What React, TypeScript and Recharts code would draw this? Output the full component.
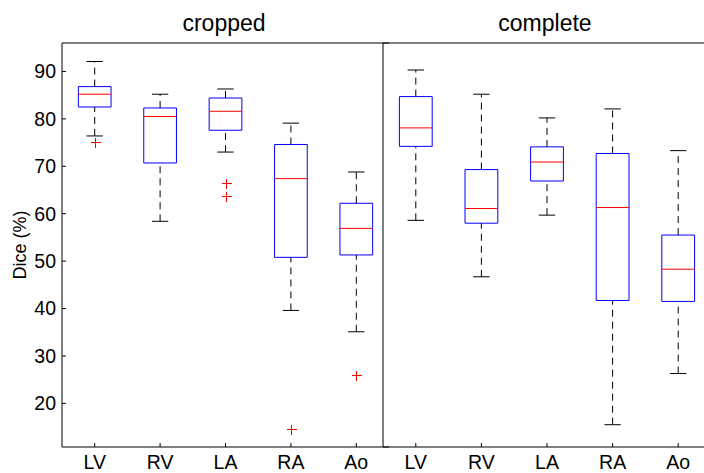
import React from "react";
import {
  ComposedChart,
  XAxis,
  YAxis,
  Scatter,
  ReferenceArea,
  ReferenceLine,
} from "recharts";

// カテゴリと目盛り
const categories = ["LV", "RV", "LA", "RA", "Ao"];
const yTicks = [20, 30, 40, 50, 60, 70, 80, 90];

// cropped の箱ひげ値
const croppedLow = [76.4, 58.4, 73.0, 39.6, 35.1];
const croppedQ1 = [82.5, 70.7, 77.6, 50.8, 51.3];
const croppedMedian = [85.2, 80.5, 81.6, 67.4, 56.9];
const croppedQ3 = [86.8, 82.3, 84.4, 74.6, 62.2];
const croppedHigh = [92.1, 85.2, 86.3, 79.1, 68.8];
const croppedOutliers = [[75.2], [], [66.4, 63.8], [14.6], [26.0]];

// complete の箱ひげ値
const completeLow = [58.6, 46.7, 59.7, 15.5, 26.3];
const completeQ1 = [74.2, 58.0, 66.9, 41.7, 41.5];
const completeMedian = [78.1, 61.1, 70.9, 61.3, 48.3];
const completeQ3 = [84.7, 69.3, 74.1, 72.7, 55.5];
const completeHigh = [90.3, 85.2, 80.2, 82.1, 73.3];
const completeOutliers = [[], [], [], [], []];

const FONT = "'Liberation Sans', Arial, Helvetica, sans-serif";
const X_DOMAIN: [number, number] = [0.5, 5.5];
const Y_DOMAIN: [number, number] = [10.8, 96];
const X_TICKS = [1, 2, 3, 4, 5];

// 外れ値の「+」マーカー
const Plus = (props: any) => {
  const { cx, cy } = props;
  if (cx == null || cy == null) return null;
  const px = Math.round(cx) + 0.5;
  const py = Math.round(cy) + 0.5;
  return (
    <g stroke="#ff0000" strokeWidth={1} shapeRendering="crispEdges">
      <line x1={px - 5} y1={py} x2={px + 5} y2={py} />
      <line x1={px} y1={py - 5} x2={px} y2={py + 5} />
    </g>
  );
};

interface PanelProps {
  low: number[];
  q1: number[];
  median: number[];
  q3: number[];
  high: number[];
  outliers: number[][];
  width: number;
  yWidth: number;
  showYLabels: boolean;
}

const Panel: React.FC<PanelProps> = ({
  low,
  q1,
  median,
  q3,
  high,
  outliers,
  width,
  yWidth,
  showYLabels,
}) => {
  const points = outliers.flatMap((vals, i) =>
    vals.map((v) => ({ x: i + 1, y: v }))
  );

  return (
    <ComposedChart
      width={width}
      height={473}
      margin={{ top: 42, right: 0, bottom: 0, left: 0 }}
    >
      <XAxis
        dataKey="x"
        type="number"
        domain={X_DOMAIN}
        ticks={X_TICKS}
        allowDataOverflow
        height={26}
        tickSize={-4}
        tickMargin={12}
        tickFormatter={(v) => categories[v - 1] ?? ""}
        tick={{ fill: "#000", fontSize: 19.5, fontFamily: FONT }}
        axisLine={{ stroke: "#000" }}
        tickLine={{ stroke: "#000" }}
      />
      <XAxis
        xAxisId="top"
        orientation="top"
        type="number"
        domain={X_DOMAIN}
        ticks={X_TICKS}
        allowDataOverflow
        height={1}
        tickSize={-4}
        tick={false}
        axisLine={{ stroke: "#000" }}
        tickLine={{ stroke: "#000" }}
      />
      <YAxis
        dataKey="y"
        type="number"
        domain={Y_DOMAIN}
        ticks={yTicks}
        allowDataOverflow
        width={yWidth}
        tickSize={-4}
        tickMargin={10}
        tick={
          showYLabels
            ? { fill: "#000", fontSize: 19.5, fontFamily: FONT }
            : false
        }
        axisLine={{ stroke: "#000" }}
        tickLine={{ stroke: "#000" }}
      />

      {categories.map((_, i) => {
        const x = i + 1;
        return (
          <React.Fragment key={`box-${i}`}>
            {/* ひげ */}
            <ReferenceLine
              segment={[
                { x, y: q3[i] },
                { x, y: high[i] },
              ]}
              stroke="#000"
              strokeDasharray="7 5"
            />
            <ReferenceLine
              segment={[
                { x, y: low[i] },
                { x, y: q1[i] },
              ]}
              stroke="#000"
              strokeDasharray="7 5"
            />
            <ReferenceLine
              segment={[
                { x: x - 0.125, y: high[i] },
                { x: x + 0.125, y: high[i] },
              ]}
              stroke="#000"
            />
            <ReferenceLine
              segment={[
                { x: x - 0.125, y: low[i] },
                { x: x + 0.125, y: low[i] },
              ]}
              stroke="#000"
            />
            {/* 箱 */}
            <ReferenceArea
              x1={x - 0.25}
              x2={x + 0.25}
              y1={q1[i]}
              y2={q3[i]}
              fill="#fff"
              fillOpacity={1}
              stroke="#0000ff"
              strokeOpacity={1}
            />
            {/* 中央値 */}
            <ReferenceLine
              segment={[
                { x: x - 0.25, y: median[i] },
                { x: x + 0.25, y: median[i] },
              ]}
              stroke="#ff0000"
            />
          </React.Fragment>
        );
      })}

      <Scatter
        data={points}
        dataKey="y"
        shape={<Plus />}
        isAnimationActive={false}
      />
    </ComposedChart>
  );
};

export default function App() {
  return (
    <div
      style={{
        position: "absolute",
        left: 0,
        top: 0,
        width: 704,
        height: 473,
        overflow: "hidden",
        background: "#fff",
        fontFamily: FONT,
      }}
    >
      <div style={{ position: "absolute", left: 0, top: 0 }}>
        <Panel
          low={croppedLow}
          q1={croppedQ1}
          median={croppedMedian}
          q3={croppedQ3}
          high={croppedHigh}
          outliers={croppedOutliers}
          width={389}
          yWidth={62}
          showYLabels
        />
      </div>
      <div style={{ position: "absolute", left: 382, top: 0 }}>
        <Panel
          low={completeLow}
          q1={completeQ1}
          median={completeMedian}
          q3={completeQ3}
          high={completeHigh}
          outliers={completeOutliers}
          width={329}
          yWidth={1}
          showYLabels={false}
        />
      </div>
      {/* タイトルと軸ラベル */}
      <svg
        width={704}
        height={473}
        style={{ position: "absolute", left: 0, top: 0, pointerEvents: "none" }}
      >
        <text x={224} y={31} textAnchor="middle" fontSize={23} fontFamily={FONT}>
          cropped
        </text>
        <text x={545} y={31} textAnchor="middle" fontSize={23} fontFamily={FONT}>
          complete
        </text>
        <text
          x={0}
          y={0}
          transform="translate(26,245) rotate(-90)"
          textAnchor="middle"
          fontSize={18}
          fontFamily={FONT}
        >
          Dice (%)
        </text>
      </svg>
    </div>
  );
}
